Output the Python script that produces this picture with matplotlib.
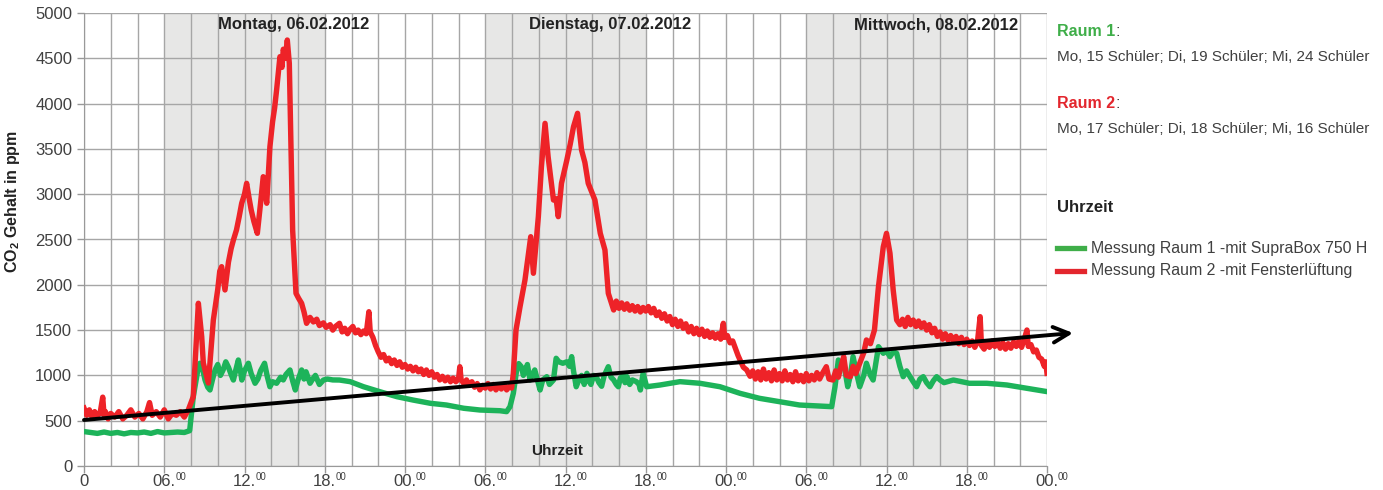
import matplotlib
matplotlib.use("Agg")
import matplotlib.pyplot as plt
from matplotlib.lines import Line2D
from matplotlib import transforms

plt.rcParams['font.family'] = ['Liberation Sans', 'DejaVu Sans']

# ---------------- data ----------------
hours_r2 = [0, 0.2, 0.4, 0.6, 0.8, 1.0, 1.2, 1.4, 1.5, 1.6, 1.8, 2.0, 2.3, 2.6, 2.9, 3.2, 3.5, 3.8, 4.1, 4.4,
            4.7, 4.9, 5.1, 5.4, 5.7, 6.0, 6.3, 6.6, 6.9, 7.2, 7.5, 7.8,
            8.17, 8.55, 8.8, 8.92, 9.3, 9.67, 10.0, 10.15, 10.29, 10.54, 10.8, 11.0, 11.17, 11.4, 11.6, 11.79,
            12.0, 12.16, 12.35, 12.5, 12.7, 12.96, 13.2, 13.4, 13.66, 13.9, 14.1, 14.25, 14.4, 14.65, 14.8,
            14.9, 15.05, 15.2, 15.35, 15.6, 15.85, 16.05, 16.27, 16.45,
            16.64, 16.9, 17.15, 17.4, 17.6, 17.9, 18.1, 18.4, 18.6, 18.8, 19.1, 19.3, 19.5, 19.7, 19.9, 20.1,
            20.3, 20.5, 20.7, 20.9, 21.1, 21.3, 21.4, 21.6, 21.8,
            22.0, 22.2, 22.4, 22.6, 22.8, 23.0, 23.2, 23.4, 23.6, 23.8, 24.0, 24.2, 24.4, 24.6, 24.8, 25.0,
            25.2, 25.4, 25.6, 25.8, 26.0, 26.2, 26.4, 26.6, 26.8, 27.0, 27.2, 27.4, 27.6, 27.8, 28.0, 28.1,
            28.2, 28.4, 28.6, 28.8, 29.0, 29.2, 29.4, 29.6, 29.8, 30.0, 30.2, 30.4, 30.6, 30.8, 31.0, 31.2,
            31.4, 31.6, 31.8, 31.97,
            32.1, 32.3, 32.6, 32.97, 33.1, 33.4, 33.6, 33.97, 34.2, 34.47, 34.7, 35.1, 35.3, 35.46, 35.7,
            36.1, 36.35, 36.6, 36.9, 37.2, 37.45, 37.7, 38.2, 38.6, 38.95, 39.2,
            39.6, 39.8, 40.0, 40.2, 40.4, 40.6, 40.8, 41.0, 41.2, 41.4, 41.6, 41.8, 42.0, 42.2, 42.4, 42.6,
            42.8, 43.0, 43.2, 43.4, 43.6, 43.8, 44.0, 44.2, 44.4, 44.6, 44.8, 45.0, 45.2, 45.4, 45.6, 45.8,
            46.0, 46.2, 46.4, 46.6, 46.8, 47.0, 47.2, 47.4, 47.6, 47.8, 47.9, 48.1, 48.3, 48.5, 48.7, 48.9,
            49.05, 49.3, 49.55,
            49.8, 50.0, 50.2, 50.4, 50.6, 50.8, 51.0, 51.2, 51.4, 51.6, 51.8, 52.0, 52.2, 52.4, 52.6, 52.8,
            53.0, 53.2, 53.4, 53.6, 53.8, 54.0, 54.2, 54.4, 54.6, 54.8, 55.0, 55.2, 55.5, 55.7, 56.0, 56.2,
            56.4, 56.6, 56.8, 57.0, 57.3, 57.5, 57.7, 58.0, 58.3, 58.5, 58.8, 59.1, 59.4, 59.76, 60.0, 60.26,
            60.5, 60.76,
            61.0, 61.2, 61.4, 61.6, 61.8, 62.0, 62.2, 62.4, 62.6, 62.8, 63.0, 63.2, 63.4, 63.6, 63.8, 64.0,
            64.2, 64.4, 64.6, 64.8, 65.0, 65.2, 65.4, 65.6, 65.8, 66.0, 66.2, 66.4, 66.6, 66.8, 67.0, 67.1,
            67.3, 67.5, 67.7, 67.9, 68.1, 68.3, 68.5, 68.7, 68.9, 69.1, 69.3, 69.5, 69.7, 69.9, 70.1, 70.3,
            70.5, 70.6, 70.8, 71.0, 71.2, 71.4, 71.6, 71.8, 71.9, 72.0]
co2_r2 = [640, 560, 620, 540, 600, 560, 580, 760, 560, 600, 520, 580, 540, 600, 520, 560, 620, 540, 580, 520,
          600, 700, 560, 600, 540, 620, 520, 580, 560, 600, 540, 620,
          765, 1796, 1428, 1137, 916, 1611, 1950, 2150, 2200, 1943, 2250, 2400, 2494, 2605, 2750, 2900,
          3000, 3120, 2950, 2826, 2700, 2568, 2900, 3193, 2900, 3524, 3800, 3950, 4150, 4518, 4400,
          4600, 4500, 4702, 4445, 2605, 1906, 1850, 1796, 1700,
          1575, 1640, 1590, 1620, 1550, 1580, 1530, 1560, 1500, 1540, 1575, 1480, 1520, 1460, 1510, 1540,
          1470, 1500, 1450, 1490, 1460, 1703, 1480, 1420, 1330,
          1260, 1200, 1230, 1160, 1190, 1130, 1170, 1110, 1150, 1090, 1120, 1070, 1100, 1050, 1090, 1040,
          1070, 1010, 1060, 1000, 1040, 980, 1010, 950, 990, 940, 980, 930, 970, 930, 960, 1096,
          950, 910, 950, 890, 930, 870, 910, 840, 890, 860, 910, 850, 900, 840, 890, 850,
          900, 840, 880, 860,
          1023, 1501, 1758, 2053, 2200, 2531, 2127, 2752, 3304, 3782, 3414, 2936, 2950, 2752, 3120,
          3377, 3550, 3745, 3893, 3488, 3350, 3120, 2936, 2568, 2384, 1906,
          1722, 1820, 1740, 1800, 1730, 1790, 1720, 1770, 1710, 1760, 1700, 1750, 1710, 1760, 1690, 1740,
          1660, 1700, 1630, 1680, 1600, 1650, 1560, 1620, 1540, 1600, 1520, 1570, 1480, 1540, 1460, 1520,
          1450, 1510, 1430, 1490, 1420, 1470, 1410, 1460, 1400, 1575, 1420, 1440, 1360, 1380, 1300, 1220,
          1170, 1090, 1060,
          990, 1050, 960, 1040, 950, 1070, 960, 1030, 940, 1060, 950, 1020, 940, 1050, 950, 1010,
          930, 1040, 940, 1000, 930, 1020, 940, 1000, 950, 1030, 960, 1020, 1096, 960, 949, 1050,
          980, 1100, 1207, 1000, 986, 1100, 1020, 1134, 1250, 1391, 1350, 1501, 1979, 2420, 2568, 2348,
          1943, 1611,
          1560, 1620, 1540, 1640, 1560, 1611, 1540, 1600, 1530, 1580, 1500, 1560, 1470, 1520, 1430, 1480,
          1400, 1460, 1390, 1440, 1380, 1430, 1350, 1420, 1340, 1400, 1330, 1380, 1310, 1370, 1648, 1330,
          1290, 1370, 1310, 1380, 1320, 1370, 1300, 1360, 1290, 1350, 1300, 1370, 1320, 1380, 1310, 1400,
          1501, 1320, 1340, 1260, 1280, 1200, 1180, 1100, 1150, 1023]

hours_r1 = [0, 0.5, 1, 1.5, 2, 2.5, 3, 3.5, 4, 4.5, 5, 5.5, 6, 6.5, 7, 7.5, 7.9,
            8.17, 8.5, 8.67, 8.85, 9.05, 9.25, 9.42, 9.6, 9.8, 10.0, 10.2, 10.4, 10.6, 10.8, 11.0, 11.17,
            11.35, 11.54, 11.7, 11.8, 12.0, 12.29, 12.5, 12.79, 13.0, 13.2, 13.5, 13.7, 13.9, 14.1, 14.4,
            14.7, 14.9, 15.1, 15.4, 15.6, 15.8, 16.0, 16.27, 16.45, 16.6, 16.9, 17.1, 17.3, 17.6, 17.9,
            18.2, 18.6, 19.1, 19.9, 20.9,
            22.1, 23.4, 24.6, 25.9, 27.1, 28.4, 29.6, 31.1, 31.6, 31.85, 32.1, 32.35, 32.5, 32.7, 32.85,
            32.97, 33.15, 33.35, 33.5, 33.7, 33.9, 34.1, 34.3, 34.6, 34.8, 35.1, 35.3, 35.5, 35.8, 36.1,
            36.3, 36.46, 36.6, 36.8, 37.0, 37.2, 37.4, 37.6, 37.75, 37.9, 38.1, 38.3, 38.5, 38.7, 38.9,
            39.2, 39.4, 39.6, 39.8, 39.95, 40.1, 40.3, 40.45, 40.6, 40.8, 41.0, 41.3, 41.5, 41.6, 41.8,
            42.07, 43.07, 44.56, 46.05, 47.55, 49.05,
            50.5, 52.0, 53.5, 55.0, 55.9, 56.15, 56.4, 56.6, 56.8, 57.1, 57.3, 57.5, 57.8, 58.0, 58.3, 58.5,
            58.8, 59.0, 59.4, 59.76, 60.0, 60.26, 60.5, 60.76, 61.0, 61.25, 61.5, 61.76, 62.0, 62.25,
            62.5, 62.75, 63.0, 63.25, 63.5, 63.75, 64.0, 64.3, 65.0, 66.2, 67.5, 69.0, 70.5, 72.0]
co2_r1 = [380, 370, 360, 375, 360, 370, 355, 370, 365, 375, 360, 380, 365, 370, 375, 370, 390,
          765, 1050, 1134, 1080, 949, 870, 839, 950, 1060, 1120, 1000, 1060, 1150, 1090, 1010, 949,
          1060, 1170, 1050, 949, 1050, 1134, 1020, 913, 960, 1050, 1134, 990, 875, 930, 913,
          980, 950, 1010, 1060, 940, 839, 950, 1060, 960, 1040, 913, 960, 1000, 900, 949,
          960, 950, 949, 931, 875,
          821, 765, 728, 692, 673, 637, 618, 610, 600, 655, 802, 1060, 1130, 1096, 1000,
          1050, 1120, 949, 1000, 1060, 950, 839, 950, 986, 900, 949, 1189, 1150, 1134, 1150,
          1100, 1207, 1050, 875, 950, 1000, 900, 1023, 940, 900, 1000, 986, 920, 880, 1000,
          1096, 980, 950, 900, 875, 970, 1000, 920, 986, 900, 950, 931, 900, 839, 1023,
          875, 894, 931, 913, 875, 802,
          747, 710, 673, 662, 655, 875, 1170, 1100, 1134, 875, 1000, 1207, 1000, 875, 1000, 1134,
          1000, 949, 1317, 1244, 1270, 1207, 1260, 1244, 1100, 986, 1050, 986, 930, 875,
          960, 986, 920, 875, 940, 986, 950, 920, 949, 913, 913, 894, 858, 821]

tick_hours = [0, 6, 12, 18, 24, 30, 36, 42, 48, 54, 60, 66, 72]
tick_labels = ['0', '06.', '12.', '18.', '00.', '06.', '12.', '18.', '00.', '06.', '12.', '18.', '00.']
school_spans = [(6, 18), (30, 42), (54, 66)]
day_labels = ['Montag, 06.02.2012', 'Dienstag, 07.02.2012', 'Mittwoch, 08.02.2012']
day_label_hours = [15.7, 39.3, 63.7]
trend_start = (0, 508)
trend_end = (73.95, 1468)

GREEN = '#1db35a'
RED = '#ee2328'
GRID = '#a6a6a6'
TXT = '#404040'

W, H = 1383, 490
fig = plt.figure(figsize=(W / 100, H / 100), dpi=100)
ax = fig.add_axes([84 / W, 1 - 466 / H, (1047 - 84) / W, (466 - 13) / H])

for a, b in school_spans:
    ax.axvspan(a, b, color='#e7e7e6', zorder=0, lw=0)

ax.set_xlim(0, 72)
ax.set_ylim(0, 5000)
ax.set_xticks(tick_hours)
ax.set_xticklabels([])
ax.set_xticks(range(0, 73, 2), minor=True)
ax.set_yticks(range(0, 5001, 500))
ax.grid(True, which='both', axis='x', color=GRID, lw=1.0, zorder=1)
ax.grid(True, which='major', axis='y', color=GRID, lw=1.0, zorder=1)
ax.set_axisbelow(True)
for s in ['top', 'right']:
    ax.spines[s].set_visible(False)
ax.spines['left'].set_color('#999999')
ax.spines['bottom'].set_color('#999999')
ax.tick_params(axis='both', which='major', labelsize=12, colors='#999999', labelcolor=TXT, length=5, width=1)
ax.tick_params(axis='x', which='minor', length=0)

# x tick labels: "06." with superscript "00"
blend = transforms.blended_transform_factory(ax.transData, ax.transAxes)
y_base = -(486 - 466) / 453
for h, lab in zip(tick_hours, tick_labels):
    if lab == '0':
        ax.text(h, y_base, '0', ha='center', va='baseline', fontsize=12, color=TXT, transform=blend)
    else:
        t_main = transforms.offset_copy(blend, fig=fig, x=11, y=0, units='dots')
        t_sup = transforms.offset_copy(blend, fig=fig, x=11, y=6, units='dots')
        ax.text(h, y_base, lab, ha='right', va='baseline', fontsize=12, color=TXT, transform=t_main)
        ax.text(h, y_base, '00', ha='left', va='baseline', fontsize=7, color=TXT, transform=t_sup)

ax.plot(hours_r1, co2_r1, color=GREEN, lw=3.9, solid_joinstyle='round', zorder=3)
ax.plot(hours_r2, co2_r2, color=RED, lw=3.9, solid_joinstyle='round', zorder=4)

ax.annotate('', xy=trend_end, xytext=trend_start, annotation_clip=False,
            arrowprops=dict(arrowstyle='->', lw=2.8, color='black', mutation_scale=28,
                            shrinkA=0, shrinkB=0), zorder=6)

for lab, h in zip(day_labels, day_label_hours):
    ax.text(h, 4870, lab, ha='center', va='center', fontsize=12, fontweight='bold', color='#222222')
ax.text(35.4, 165, 'Uhrzeit', ha='center', va='center', fontsize=11, fontweight='bold', color='#222222')

ax.set_ylabel(r'CO$_{\mathregular{2}}$ Gehalt in ppm', fontsize=11.5, fontweight='bold', color='#222222')
ax.yaxis.set_label_coords(-0.064, 0.583)

# ---- right side annotations ----
def fx(px):
    return px / W

def fy(py):
    return 1 - py / H

fig.canvas.draw()
r = fig.canvas.get_renderer()
t1 = fig.text(fx(1057), fy(32), 'Raum 1', fontsize=11.5, fontweight='bold', color='#3fae49', va='center')
bb = t1.get_window_extent(r)
fig.text(bb.x1 / W, fy(32), ':', fontsize=11.5, color=TXT, va='center')
fig.text(fx(1057), fy(57), 'Mo, 15 Schüler; Di, 19 Schüler; Mi, 24 Schüler', fontsize=11, color=TXT, va='center')
t2 = fig.text(fx(1057), fy(104), 'Raum 2', fontsize=11.5, fontweight='bold', color='#e3262d', va='center')
bb = t2.get_window_extent(r)
fig.text(bb.x1 / W, fy(104), ':', fontsize=11.5, color=TXT, va='center')
fig.text(fx(1057), fy(129), 'Mo, 17 Schüler; Di, 18 Schüler; Mi, 16 Schüler', fontsize=11, color=TXT, va='center')
fig.text(fx(1057), fy(208), 'Uhrzeit', fontsize=12, fontweight='bold', color='#222222', va='center')

fig.add_artist(Line2D([fx(1057), fx(1084)], [fy(248), fy(248)], color='#3fae49', lw=3.8))
fig.text(fx(1091), fy(248), 'Messung Raum 1 -mit SupraBox 750 H', fontsize=11.4, color=TXT, va='center')
fig.add_artist(Line2D([fx(1057), fx(1084)], [fy(271), fy(271)], color='#e3262d', lw=3.8))
fig.text(fx(1091), fy(271), 'Messung Raum 2 -mit Fensterlüftung', fontsize=11.4, color=TXT, va='center')

fig.savefig('out.png', dpi=100)
